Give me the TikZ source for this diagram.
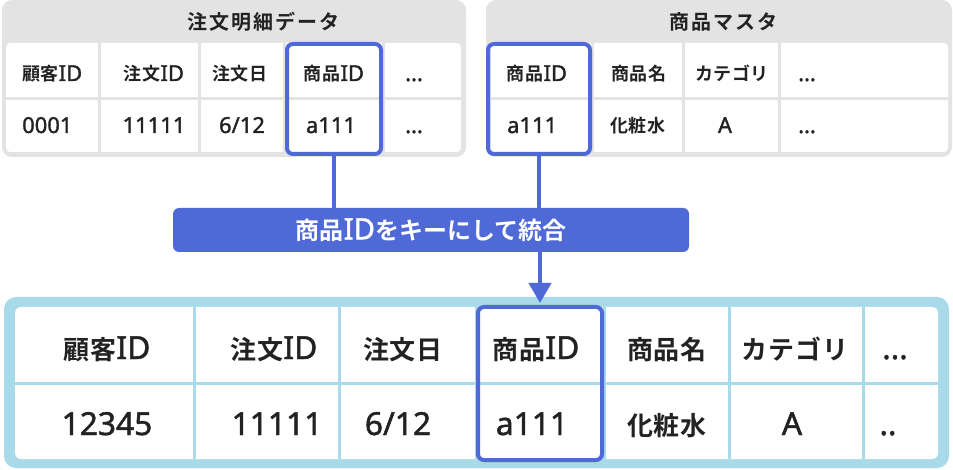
\documentclass[tikz,border=0pt]{standalone}
\usepackage{fontspec}
\setmainfont{Noto Sans CJK JP}
\newfontfamily\cellfont{Noto Sans CJK JP}[UprightFont=* Bold,LetterSpace=3]
\newfontfamily\headfont{Noto Sans CJK JP}[UprightFont=* Bold,LetterSpace=10]
\newfontfamily\bannerfont{Noto Sans CJK JP}[UprightFont=* Bold]
\newfontfamily\latfont{Noto Sans}[Scale=1.22,FakeBold=1.5]
\newcommand\lat[1]{{\latfont #1}}
\usetikzlibrary{arrows.meta}
\definecolor{keyblue}{HTML}{4F69D7}
\definecolor{framegray}{HTML}{E3E3E3}
\definecolor{joinblue}{HTML}{A8DAEA}
\definecolor{ink}{HTML}{222222}
\tikzset{
  small/.style={font=\cellfont\fontsize{18}{18}\selectfont, text=ink, inner sep=0pt, anchor=base},
  heading/.style={font=\headfont\fontsize{20}{20}\selectfont, text=ink, inner sep=0pt, anchor=base},
  large/.style={font=\cellfont\fontsize{26}{26}\selectfont, text=ink, inner sep=0pt, anchor=base},
  keybox/.style={draw=keyblue, line width=4pt, rounded corners=6pt, inner sep=0pt},
  link/.style={draw=keyblue, line width=4pt},
  rule/.style={line width=3pt},
}

\begin{document}
\begin{tikzpicture}[x=1pt,y=-1pt]
\useasboundingbox (0,0) rectangle (953,470);

\fill[framegray, rounded corners=10pt] (2,0) rectangle (466,157);
\fill[white, rounded corners=4pt] (6,43) rectangle (461,152);
\draw[framegray, rule] (6,99) -- (461,99);
\foreach \x in {99,199,284,383} \draw[framegray, rule] (\x,43) -- (\x,152);
\node[heading] (oT) at (263,30) {注文明細データ};
\node[small, anchor=base west] (oh1) at (22,81) {顧客\lat{ID}};
\node[small] (oh2) at (154,81) {注文\lat{ID}};
\node[small] (oh3) at (240,81) {注文日};
\node[small] (oh4) at (334,81) {商品\lat{ID}};
\node[small, anchor=base west] (oh5) at (405,81) {\lat{...}};
\node[small, anchor=base west] (od1) at (22,133) {\lat{0001}};
\node[small] (od2) at (154,133) {\lat{11111}};
\node[small] (od3) at (242,133) {\lat{6/12}};
\node[small] (od4) at (331,133) {\lat{a111}};
\node[small, anchor=base west] (od5) at (405,133) {\lat{...}};
\node[keybox, minimum width=94pt, minimum height=110pt] (okey) at (334,99) {};

\fill[framegray, rounded corners=10pt] (486,0) rectangle (952,157);
\fill[white, rounded corners=4pt] (491,43) rectangle (948,152);
\draw[framegray, rule] (491,99) -- (948,99);
\foreach \x in {592,683,779} \draw[framegray, rule] (\x,43) -- (\x,152);
\node[heading] (mT) at (723,30) {商品マスタ};
\node[small] (mh1) at (537,81) {商品\lat{ID}};
\node[small] (mh2) at (639,81) {商品名};
\node[small] (mh3) at (732,81) {カテゴリ};
\node[small, anchor=base west] (mh4) at (798,81) {\lat{...}};
\node[small, anchor=base west] (md1) at (507,133) {\lat{a111}};
\node[small] (md2) at (638,133) {化粧水};
\node[small] (md3) at (725,133) {\lat{A}};
\node[small, anchor=base west] (md4) at (798,133) {\lat{...}};
\node[keybox, minimum width=102pt, minimum height=110pt] (mkey) at (539,99) {};

\fill[joinblue, rounded corners=12pt] (4,297) rectangle (949,468);
\fill[white, rounded corners=6pt] (15,307) rectangle (938,459);
\draw[joinblue, rule] (15,383) -- (938,383);
\foreach \x in {194,339,476,604,729,863} \draw[joinblue, rule] (\x,307) -- (\x,459);
\node[large] (jh1) at (107,359) {顧客\lat{ID}};
\node[large] (jh2) at (274,359) {注文\lat{ID}};
\node[large] (jh3) at (403,359) {注文日};
\node[large] (jh4) at (536,359) {商品\lat{ID}};
\node[large] (jh5) at (667,359) {商品名};
\node[large] (jh6) at (795,359) {カテゴリ};
\node[large] (jh7) at (895,359) {\lat{...}};
\node[large] (jd1) at (107,435) {\lat{12345}};
\node[large] (jd2) at (277,435) {\lat{11111}};
\node[large] (jd3) at (398,435) {\lat{6/12}};
\node[large] (jd4) at (532,435) {\lat{a111}};
\node[large] (jd5) at (667,435) {化粧水};
\node[large] (jd6) at (792,435) {\lat{A}};
\node[large] (jd7) at (888,435) {\lat{..}};
\node[keybox, minimum width=124pt, minimum height=153pt] (jkey) at (540,383.5) {};

\node[fill=keyblue, rounded corners=6pt, minimum width=516pt, minimum height=44pt, inner sep=0pt,
  text=white, font=\bannerfont\fontsize{24}{24}\selectfont] (merge) at (431,230) {商品\lat{ID}をキーにして統合};
\draw[link] (okey.south) -- (okey.south |- merge.north);
\draw[link] (mkey.south) -- (mkey.south |- merge.north);
\draw[link, -{Triangle[width=22pt,length=20pt]}, shorten >=2pt] (merge.south -| jkey.north) -- (jkey.north);
\end{tikzpicture}
\end{document}
